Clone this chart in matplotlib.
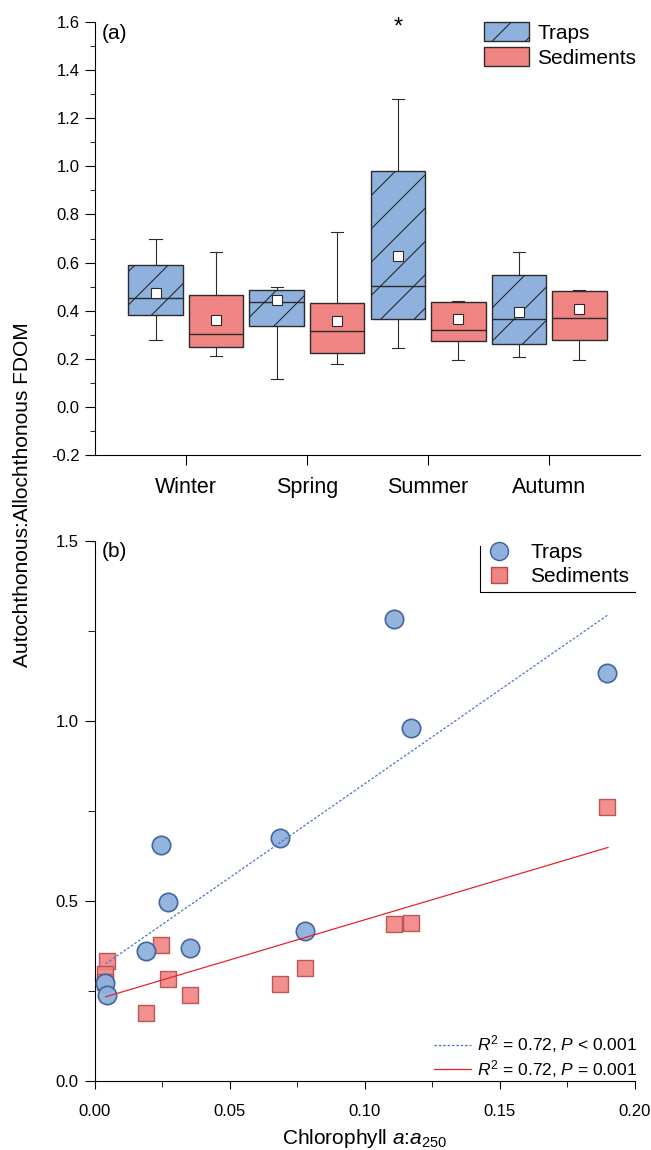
import numpy as np
import matplotlib
matplotlib.use("Agg")
import matplotlib.pyplot as plt
from matplotlib.patches import Patch
from matplotlib.lines import Line2D

plt.rcParams['font.family'] = ['Liberation Sans', 'DejaVu Sans']
plt.rcParams['mathtext.fontset'] = 'custom'
plt.rcParams['mathtext.rm'] = 'Liberation Sans'
plt.rcParams['mathtext.it'] = 'Liberation Sans:italic'
plt.rcParams['hatch.linewidth'] = 0.8

# ---- panel (a): box summaries (whislo, q1, median, q3, whishi, mean)
seasons = ["Winter", "Spring", "Summer", "Autumn"]
traps_whislo = [0.28, 0.117, 0.244, 0.207]
traps_q1     = [0.381, 0.336, 0.364, 0.262]
traps_med    = [0.454, 0.435, 0.502, 0.364]
traps_q3     = [0.588, 0.484, 0.979, 0.547]
traps_whishi = [0.699, 0.497, 1.281, 0.646]
traps_mean   = [0.475, 0.443, 0.629, 0.395]
sed_whislo = [0.212, 0.18, 0.195, 0.195]
sed_q1     = [0.249, 0.224, 0.275, 0.277]
sed_med    = [0.305, 0.314, 0.32, 0.371]
sed_q3     = [0.465, 0.434, 0.438, 0.482]
sed_whishi = [0.643, 0.728, 0.442, 0.485]
sed_mean   = [0.363, 0.357, 0.364, 0.406]
summer_outlier = 1.575

# ---- panel (b): scatter
traps_x = [0.1106, 0.1897, 0.1169, 0.0684, 0.0243, 0.0270, 0.0779, 0.0353, 0.0189, 0.0037, 0.0045]
traps_y = [1.284, 1.134, 0.980, 0.675, 0.656, 0.496, 0.418, 0.370, 0.362, 0.272, 0.239]
sed_x = [0.1897, 0.1106, 0.1169, 0.0243, 0.0779, 0.0046, 0.0037, 0.0037, 0.0270, 0.0684, 0.0353, 0.0189]
sed_y = [0.762, 0.435, 0.438, 0.379, 0.314, 0.333, 0.298, 0.275, 0.284, 0.270, 0.239, 0.190]
fit_xrange = [0.004, 0.19]
traps_fit = [5.21, 0.305]   # slope, intercept
sed_fit = [2.23, 0.225]

blue = "#8eb1dd"
red = "#f08482"
edge = "#2b2b2b"

fig = plt.figure(figsize=(6.51, 11.5), dpi=100)
ax1 = fig.add_axes([0.1459, 0.6043, 0.8372, 0.3766])
ax2 = fig.add_axes([0.1459, 0.0600, 0.8295, 0.4696])

def make_stats(lo, q1, med, q3, hi, mean):
    return [dict(whislo=a, q1=b, med=c, q3=d, whishi=e, mean=f, fliers=[])
            for a, b, c, d, e, f in zip(lo, q1, med, q3, hi, mean)]

pos = np.arange(1, len(seasons) + 1)
common = dict(widths=0.45, capwidths=0.1, showmeans=True, patch_artist=True,
              showfliers=False,
              medianprops=dict(color=edge, linewidth=1.0),
              whiskerprops=dict(color=edge, linewidth=0.8),
              capprops=dict(color=edge, linewidth=0.8),
              meanprops=dict(marker='s', markerfacecolor='white',
                             markeredgecolor=edge, markersize=7.5, markeredgewidth=0.8))
b1 = ax1.bxp(make_stats(traps_whislo, traps_q1, traps_med, traps_q3, traps_whishi, traps_mean),
             positions=pos - 0.25, **common)
b2 = ax1.bxp(make_stats(sed_whislo, sed_q1, sed_med, sed_q3, sed_whishi, sed_mean),
             positions=pos + 0.25, **common)
for p in b1['boxes']:
    p.set(facecolor=blue, edgecolor=edge, hatch='/', linewidth=1.0)
for p in b2['boxes']:
    p.set(facecolor=red, edgecolor=edge, linewidth=1.0)
ax1.text(pos[2] - 0.25, summer_outlier, '*', ha='center', va='center', fontsize=17)

ax1.set_xlim(0.25, 4.75)
ax1.set_ylim(-0.2, 1.6)
ax1.set_xticks(pos)
ax1.set_xticklabels(seasons, fontsize=15.5)
yt = np.arange(-0.2, 1.61, 0.2)
ax1.set_yticks(yt)
ax1.set_yticklabels([f"{v:.1f}" for v in yt], fontsize=12)
ax1.set_yticks(np.arange(-0.1, 1.6, 0.2), minor=True)
ax1.tick_params(axis='x', length=7.2, pad=8.5)
ax1.tick_params(axis='y', which='major', length=7, pad=4)
ax1.tick_params(axis='y', which='minor', length=3.6)
for s in ['top', 'right']:
    ax1.spines[s].set_visible(False)
ax1.text(0.013, 0.995, "(a)", transform=ax1.transAxes, fontsize=15, va='top')
ax1.legend(handles=[Patch(facecolor=blue, edgecolor=edge, hatch='/', label='Traps'),
                    Patch(facecolor=red, edgecolor=edge, label='Sediments')],
           loc='upper left', bbox_to_anchor=(0.714, 1.0), frameon=False, fontsize=15,
           borderpad=0, borderaxespad=0,
           handlelength=2.16, handleheight=1.06, handletextpad=0.38, labelspacing=0.2)

# ---- panel (b)
ax2.scatter(sed_x, sed_y, marker='s', s=125, facecolor=red, edgecolor="#b84a4a",
            linewidth=1.0, alpha=0.9, zorder=2)
ax2.scatter(traps_x, traps_y, marker='o', s=175, facecolor=blue, edgecolor="#3d5f99",
            linewidth=1.2, alpha=0.95, zorder=3)
xf = np.array(fit_xrange)
l1, = ax2.plot(xf, traps_fit[0] * xf + traps_fit[1], color="#4b72c9", linestyle=(0, (2, 1.5)),
               linewidth=0.9, zorder=4)
l2, = ax2.plot(xf, sed_fit[0] * xf + sed_fit[1], color="#e8232a", linewidth=0.9, zorder=4)

ax2.set_xlim(0, 0.2)
ax2.set_ylim(0, 1.5)
ax2.set_xticks([0, 0.05, 0.10, 0.15, 0.20])
ax2.set_xticklabels(["0.00", "0.05", "0.10", "0.15", "0.20"], fontsize=12)
ax2.set_xticks(np.arange(0.025, 0.2, 0.05), minor=True)
ax2.set_yticks([0, 0.5, 1.0, 1.5])
ax2.set_yticklabels(["0.0", "0.5", "1.0", "1.5"], fontsize=12)
ax2.set_yticks([0.25, 0.75, 1.25], minor=True)
ax2.tick_params(axis='y', which='major', length=7, pad=5)
ax2.tick_params(axis='y', which='minor', length=5)
ax2.tick_params(axis='x', which='major', length=6, pad=10.5)
ax2.tick_params(axis='x', which='minor', length=4)
for s in ['top', 'right']:
    ax2.spines[s].set_visible(False)
ax2.set_xlabel(r"Chlorophyll $a$:$a_{250}$", fontsize=15, labelpad=6)
ax2.text(0.013, 0.998, "(b)", transform=ax2.transAxes, fontsize=15, va='top')

leg2 = ax2.legend(handles=[Line2D([], [], marker='o', linestyle='none', markersize=13,
                                  markerfacecolor=blue, markeredgecolor="#3d5f99", label='Traps'),
                           Line2D([], [], marker='s', linestyle='none', markersize=11,
                                  markerfacecolor=red, markeredgecolor="#b84a4a", label='Sediments')],
                  loc='upper left', bbox_to_anchor=(0.71, 0.996), frameon=False, fontsize=15,
                  borderpad=0, borderaxespad=0,
                  handletextpad=0.5, labelspacing=0.25)
ax2.add_artist(leg2)
ax2.plot([0.713, 0.713, 1.0], [0.99, 0.906, 0.906], transform=ax2.transAxes,
         color='black', linewidth=0.8, clip_on=False)
ax2.legend([l1, l2], [r"$R^2$ = 0.72, $P$ < 0.001", r"$R^2$ = 0.72, $P$ = 0.001"],
           loc='upper left', bbox_to_anchor=(0.628, 0.088), frameon=False, fontsize=12.5,
           borderpad=0, borderaxespad=0,
           handlelength=2.13, handletextpad=0.35, labelspacing=0.15)

fig.text(0.034, 0.5696, "Autochthonous:Allochthonous FDOM", rotation=90, fontsize=15,
         ha='center', va='center')

fig.savefig("out.png", dpi=100)
